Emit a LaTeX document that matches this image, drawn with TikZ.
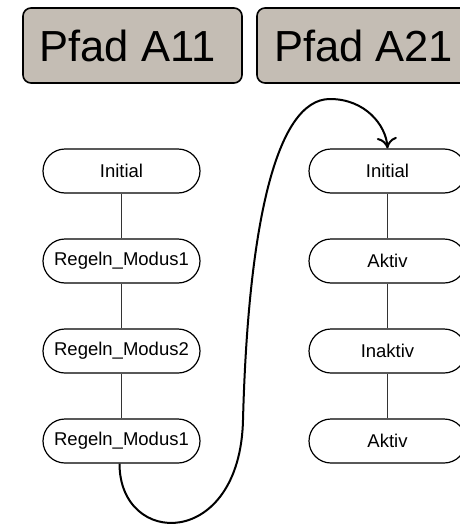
\documentclass[tikz,border=0pt]{standalone}
\usepackage{fontspec}
\setmainfont{Liberation Sans}
\usetikzlibrary{arrows.meta}
\definecolor{headfill}{RGB}{196,189,180}
\begin{document}
\begin{tikzpicture}[x=1pt,y=-1pt,
  header/.style={draw=black,line width=1.6pt,fill=headfill,rounded corners=8pt,
    minimum width=219pt,minimum height=75pt,inner sep=0pt,
    font=\fontsize{43.5}{48}\selectfont},
  state/.style={draw=black,line width=1.2pt,fill=white,rounded corners=22pt,
    minimum width=157pt,minimum height=44pt,inner sep=0pt,
    font=\fontsize{18.5}{22}\selectfont},
  link/.style={draw=black!80,line width=0.8pt},
  jump/.style={draw=black,line width=2pt,-{To[length=11pt,width=20pt]}}]
\useasboundingbox (0,0) rectangle (460,525);
% column headers
\node[header] (hA) at (132.5,45.5) {\hspace*{-10pt}Pfad A11};
\node[header] (hB) at (366.5,45.5) {\hspace*{-6pt}Pfad A21};
% left path
\node[state] (l1) at (121.5,171) {Initial};
\node[state] (l2) at (121.5,261) {Regeln\_Modus1};
\node[state] (l3) at (121.5,351) {Regeln\_Modus2};
\node[state] (l4) at (121.5,441) {Regeln\_Modus1};
% right path
\node[state] (r1) at (387.5,171) {Initial};
\node[state] (r2) at (387.5,261) {Aktiv};
\node[state] (r3) at (387.5,351) {Inaktiv};
\node[state] (r4) at (387.5,441) {Aktiv};
% vertical links
\draw[link] (l1) -- (l2);
\draw[link] (l2) -- (l3);
\draw[link] (l3) -- (l4);
\draw[link] (r1) -- (r2);
\draw[link] (r2) -- (r3);
\draw[link] (r3) -- (r4);
% transition between the paths
\draw[jump] ([xshift=-2pt]l4.south) .. controls (119.5,548) and (240,550) .. (243,420)
  .. controls (248,230) and (275,99) .. (330,99)
  .. controls (365,99) and (386,125) .. (r1.north);
\end{tikzpicture}
\end{document}
